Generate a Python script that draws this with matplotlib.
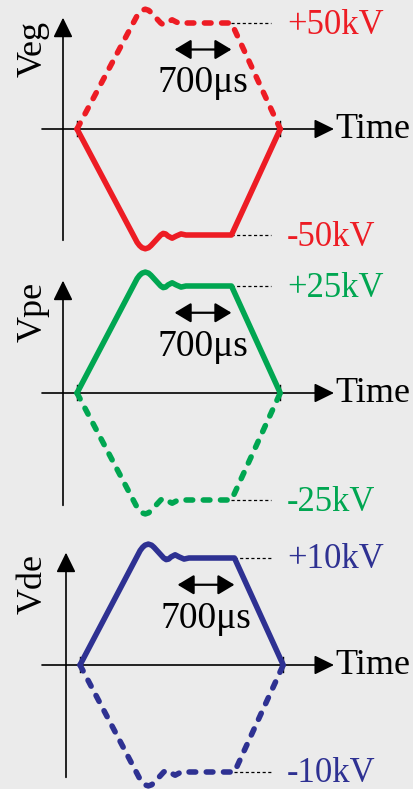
import matplotlib
matplotlib.use('Agg')
import matplotlib.pyplot as plt
import numpy as np

plt.rcParams['font.family'] = ['Liberation Serif', 'DejaVu Serif']

# pulse shape: time in us, value relative to plateau level
t_us = [0, 740, 770, 800, 840, 880, 910, 970, 1030, 1060, 1090, 1120, 1170, 1220, 1280, 1340, 1900, 2500]
shape = [0, 1.07, 1.1, 1.12, 1.13, 1.12, 1.1, 1.05, 1.0, 0.985, 0.99, 1.01, 1.03, 1.01, 0.99, 1.0, 1.0, 0]

names = ['Veg', 'Vpe', 'Vde']
peak_kv = [50, 25, 10]
colors = ['#ed1c24', '#00a651', '#2e3192']
solid_sign = [-1, 1, 1]      # polarity drawn with the solid line
plateau = (1200, 1900)       # 700us hold
hold_label = '700μs'

W, H = 414, 789
US_PER_PX = 12.3
# band top, band bottom, x-axis row, pulse start column, plateau height (px)
panels = [(0, 260, 129, 77, 106), (260, 530, 393, 77, 107), (530, 789, 665, 80, 107)]

fig = plt.figure(figsize=(W / 100, H / 100), dpi=100)
fig.patch.set_facecolor('#ebebeb')

for i in range(3):
    top, bot, y0, x0, amp_px = panels[i]
    kv = peak_kv[i]
    kpp = kv / amp_px
    col = colors[i]

    def tx(p):
        return (p - x0) * US_PER_PX

    ax = fig.add_axes([0, 1 - bot / H, 1, (bot - top) / H])
    ax.set_axis_off()
    ax.set_xlim(tx(0), tx(W))
    ax.set_ylim(-(bot - y0) * kpp, (y0 - top) * kpp)

    # axes with arrow heads
    ahead = '-|>,head_length=0.55,head_width=0.27'
    ax.annotate('', xy=(tx(334), 0), xytext=(tx(42), 0),
                arrowprops=dict(arrowstyle=ahead, lw=1.2, color='k', mutation_scale=22,
                                shrinkA=0, shrinkB=0))
    ax.annotate('', xy=(tx(x0 - 14), 1.05 * kv), xytext=(tx(x0 - 14), -1.05 * kv),
                arrowprops=dict(arrowstyle=ahead, lw=1.2, color='k', mutation_scale=22,
                                shrinkA=0, shrinkB=0))
    for tt in (t_us[0], t_us[-1]):
        ax.plot([tt, tt], [-7 * kpp, 8 * kpp], color='k', lw=1.0)
    ax.text(tx(335), -9 * kpp, 'Time', fontsize=26, ha='left', va='baseline')
    ax.text(tx(33), 0.76 * kv, names[i], fontsize=26, rotation=90, ha='center', va='center')

    # waveforms
    v = np.array(shape) * kv
    s = solid_sign[i]
    ax.plot(t_us, s * v, color=col, lw=4.0, solid_capstyle='round',
            solid_joinstyle='round', clip_on=False, zorder=3)
    ax.plot(t_us, -s * v, color=col, lw=4.0, ls=(0, (1.2, 1.9)),
            dash_capstyle='round', dash_joinstyle='round', clip_on=False, zorder=3)

    # plateau references and labels
    for sg in (1, -1):
        ax.plot([plateau[1], tx(271)], [sg * kv, sg * kv], color='k', lw=0.9,
                ls=(0, (2.5, 2)), zorder=2)
        lab = ('+' if sg > 0 else '-') + f'{kv}kV'
        ax.text(tx(287), sg * kv - 10.5 * kpp, lab, fontsize=25, color=col,
                ha='left', va='baseline')

    # hold-time arrow
    ax.annotate('', xy=(plateau[1], 0.75 * kv), xytext=(plateau[0], 0.75 * kv),
                arrowprops=dict(arrowstyle='<|-|>,head_length=0.5,head_width=0.3',
                                lw=1.6, color='k', mutation_scale=20, shrinkA=0, shrinkB=0))
    ax.text(np.mean(plateau), 0.35 * kv, hold_label, fontsize=27, ha='center', va='baseline')

fig.savefig('out.png', dpi=100, facecolor=fig.get_facecolor())
